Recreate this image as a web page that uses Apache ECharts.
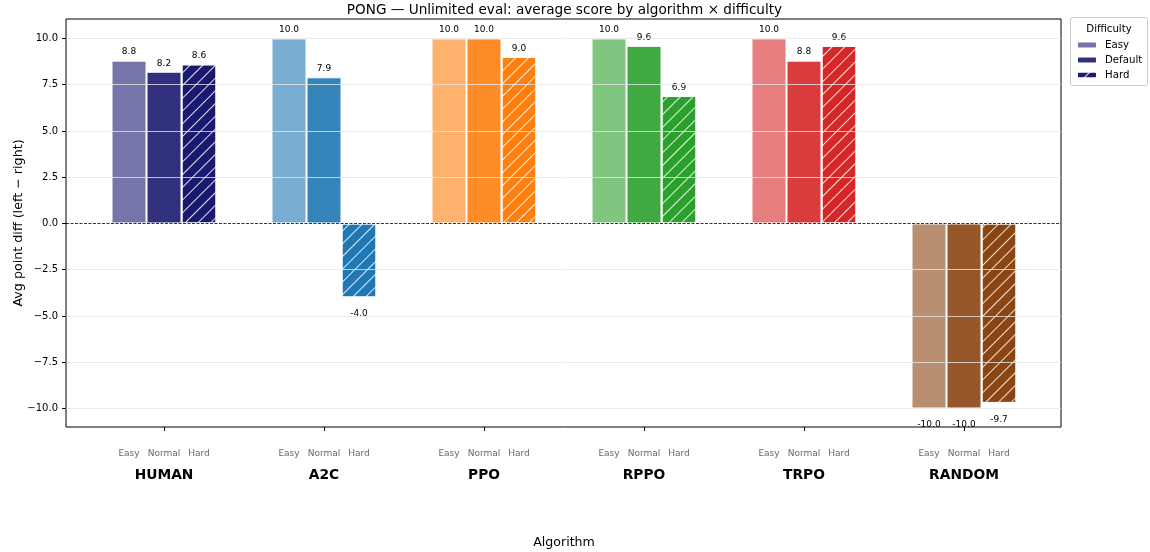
<!DOCTYPE html>
<html>
<head>
<meta charset="utf-8">
<script src="https://cdn.jsdelivr.net/npm/echarts@6/dist/echarts.min.js"></script>
<style>
html,body{margin:0;padding:0;background:#fff;}
#chart{width:1150px;height:552px;}
</style>
</head>
<body>
<div id="chart"></div>
<script>
// ---- data ----
const algorithms = ['HUMAN', 'A2C', 'PPO', 'RPPO', 'TRPO', 'RANDOM'];
const difficultyTicks = ['Easy', 'Normal', 'Hard'];
const legendNames = ['Easy', 'Default', 'Hard'];
const easyValues   = [8.8, 10.0, 10.0, 10.0, 10.0, -10.0];
const normalValues = [8.2, 7.9, 10.0, 9.6, 8.8, -10.0];
const hardValues   = [8.6, -4.0, 9.0, 6.9, 9.6, -9.7];
const yTickValues  = [-10, -7.5, -5, -2.5, 0, 2.5, 5, 7.5, 10];

// colours per algorithm: [easy, default, hard]
const algoColors = [
  ['#7575a9', '#30307e', '#191970'],
  ['#79add2', '#3585bb', '#1f77b4'],
  ['#ffb26e', '#ff8c26', '#ff7f0e'],
  ['#80c680', '#41a941', '#2ca02c'],
  ['#e67d7e', '#da3c3d', '#d62728'],
  ['#b98f71', '#96582b', '#8b4513']
];

const FONT = 'DejaVu Sans';
const Y_MIN = -11.0, Y_MAX = 11.05;
const GRID = {left: 66, top: 19, width: 995, height: 408};

const hatch = {
  symbol: 'rect',
  symbolSize: 1,
  color: 'rgba(255,255,255,0.85)',
  dashArrayX: [1, 0],
  dashArrayY: [1, 7.5],
  rotation: -Math.PI / 4
};

function makeData(values, di) {
  return values.map((v, i) => ({
    value: v,
    itemStyle: {color: algoColors[i][di]},
    label: v < 0 ? {position: 'bottom', distance: 12} : {position: 'top', distance: 4}
  }));
}

const seriesVals = [easyValues, normalValues, hardValues];
const series = seriesVals.map((vals, di) => {
  const s = {
    name: legendNames[di],
    type: 'bar',
    xAxisIndex: 1,
    yAxisIndex: 1,
    barWidth: 35,
    barGap: '0%',
    itemStyle: {color: algoColors[0][di], borderColor: '#ffffff', borderWidth: 1},
    label: {
      show: true,
      fontFamily: FONT,
      fontSize: 9,
      color: '#000',
      formatter: p => p.value.toFixed(1)
    },
    data: makeData(vals, di)
  };
  if (di === 2) s.itemStyle.decal = hatch;
  return s;
});

// gridlines and zero line drawn on the frame grid through its y scale
series.push({
  type: 'line',
  xAxisIndex: 0,
  yAxisIndex: 0,
  data: [],
  silent: true,
  markLine: {
    silent: true,
    symbol: 'none',
    label: {show: false},
    lineStyle: {color: '#e6e6e6', width: 0.8, type: 'solid'},
    data: yTickValues.filter(v => v !== 0).map(v => ({yAxis: v}))
  },
  z: 0
});
series.push({
  type: 'line',
  xAxisIndex: 0,
  yAxisIndex: 0,
  data: [],
  silent: true,
  markLine: {
    silent: true,
    symbol: 'none',
    label: {show: false},
    lineStyle: {color: '#000', width: 0.8, type: [3, 1.5]},
    data: [{yAxis: 0}]
  },
  z: 5
});

const chart = echarts.init(document.getElementById('chart'), null, {renderer: 'canvas'});
chart.setOption({
  animation: false,
  backgroundColor: '#fff',
  title: {
    text: 'PONG — Unlimited eval: average score by algorithm × difficulty',
    left: 559.5,
    textAlign: 'center',
    top: -2,
    textStyle: {fontFamily: FONT, fontSize: 13.6, fontWeight: 'normal', color: '#000'}
  },
  legend: {
    orient: 'vertical',
    left: 1076,
    top: 39,
    itemWidth: 20,
    itemHeight: 7,
    itemGap: 3,
    data: legendNames,
    textStyle: {fontFamily: FONT, fontSize: 10.2, color: '#000', lineHeight: 12, padding: [0, 0, 0, 3]},
    padding: 0
  },
  graphic: [
    {type: 'rect', shape: {x: 1070.5, y: 17.5, width: 77, height: 68, r: 2},
     style: {fill: '#fff', stroke: '#cccccc', lineWidth: 1}, z: -1},
    {type: 'text', x: 1109, y: 29, style: {text: 'Difficulty', fontFamily: FONT, fontSize: 10.2,
      fill: '#000', align: 'center', verticalAlign: 'middle'}}
  ],
  grid: [
    {left: GRID.left, top: GRID.top, width: GRID.width, height: GRID.height,
     outerBoundsMode: 'none', containLabel: false,
     show: true, borderColor: '#000', borderWidth: 1, backgroundColor: 'transparent'},
    {left: 84, top: GRID.top, width: 960, height: GRID.height,
     outerBoundsMode: 'none', containLabel: false}
  ],
  xAxis: [
    {type: 'value', gridIndex: 0, min: 0, max: 1, show: false},
    {
      type: 'category', gridIndex: 1, data: algorithms,
      axisLine: {show: false, onZero: false},
      axisTick: {show: true, alignWithLabel: true, interval: 0, length: 4, lineStyle: {color: '#000'}},
      axisLabel: {
        interval: 0,
        margin: 17,
        formatter: name => '{e|Easy}{n|Normal}{h|Hard}\n{a|' + name + '}',
        rich: {
          e: {width: 35, align: 'center', fontFamily: FONT, fontSize: 9, color: '#666', lineHeight: 19},
          n: {width: 35, align: 'center', fontFamily: FONT, fontSize: 9, color: '#666', lineHeight: 19},
          h: {width: 35, align: 'center', fontFamily: FONT, fontSize: 9, color: '#666', lineHeight: 19},
          a: {fontFamily: FONT, fontSize: 13.8, fontWeight: 'bold', color: '#000', lineHeight: 24, align: 'center'}
        }
      },
      name: 'Algorithm',
      nameLocation: 'middle',
      nameGap: 109,
      nameTextStyle: {fontFamily: FONT, fontSize: 12.6, color: '#000'}
    }
  ],
  yAxis: [
    {
      type: 'value', gridIndex: 0, min: Y_MIN, max: Y_MAX,
      axisLine: {show: false},
      axisTick: {show: true, length: 4, customValues: yTickValues, lineStyle: {color: '#000'}},
      splitLine: {show: false},
      axisLabel: {
        customValues: yTickValues,
        fontFamily: FONT, fontSize: 10, color: '#000', margin: 8,
        formatter: v => (v < 0 ? '\u2212' : '') + Math.abs(v).toFixed(1)
      },
      name: 'Avg point diff (left \u2212 right)',
      nameLocation: 'middle',
      nameMoveOverlap: false,
      nameGap: 41,
      nameTextStyle: {fontFamily: FONT, fontSize: 12.7, color: '#000'}
    },
    {type: 'value', gridIndex: 1, min: Y_MIN, max: Y_MAX, show: false, splitLine: {show: false}}
  ],
  series: series
});
</script>
</body>
</html>
